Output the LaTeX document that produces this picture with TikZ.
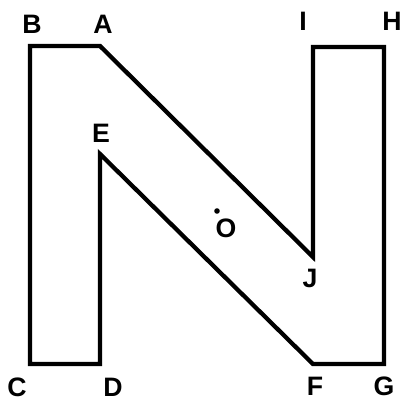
\documentclass[tikz,border=0pt]{standalone}
\usepackage{fontspec}
\setmainfont{Liberation Sans}
\usetikzlibrary{positioning}

\begin{document}
\begin{tikzpicture}[
      x=0.75pt, y=-0.75pt,
      rotulo/.style={font=\fontsize{20}{20}\selectfont\bfseries, inner sep=0pt},
      contorno/.style={line width=3.2pt, black}
  ]
      \useasboundingbox (0,0) rectangle (405,401);

      % Vértices da letra N
      \coordinate (A) at (100,46);
      \coordinate (B) at (30,46);
      \coordinate (C) at (30,364);
      \coordinate (D) at (100,364);
      \coordinate (E) at (100,154);
      \coordinate (F) at (313,364);
      \coordinate (G) at (384,364);
      \coordinate (H) at (384,47);
      \coordinate (I) at (313,47);
      \coordinate (J) at (313,257);
      \coordinate (O) at (217,211);

      % Contorno
      \draw[contorno] (A) -- (B) -- (C) -- (D) -- (E) -- (F) -- (G) -- (H) -- (I) -- (J) -- cycle;

      % Ponto O
      \fill (O) circle (2.8);

      % Rótulos
      \node[rotulo] (lA) at (103,24) {A};
      \node[rotulo] (lB) at (32,24) {B};
      \node[rotulo] (lC) at (17,387) {C};
      \node[rotulo] (lD) at (113,387) {D};
      \node[rotulo] (lE) at (101,133) {E};
      \node[rotulo] (lF) at (315,386) {F};
      \node[rotulo] (lG) at (384,386) {G};
      \node[rotulo] (lH) at (392,21) {H};
      \node[rotulo] (lI) at (303,21) {I};
      \node[rotulo] (lJ) at (310,278) {J};
      \node[rotulo] (lO) at (226,228) {O};
  \end{tikzpicture}
\end{document}
